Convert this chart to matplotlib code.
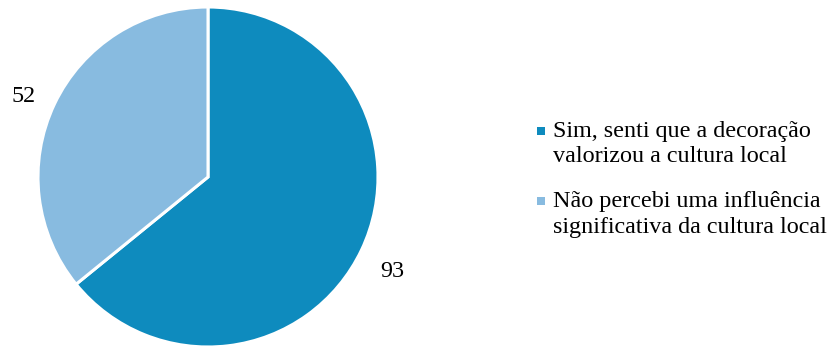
import numpy as np
import matplotlib.pyplot as plt
from matplotlib.patches import Rectangle

plt.rcParams['font.family'] = ['Liberation Serif', 'DejaVu Serif']

labels = [['Sim, senti que a decoração', 'valorizou a cultura local'],
          ['Não percebi uma influência', 'significativa da cultura local']]
values = [93, 52]
colors = ['#0E8BBE', '#88BBE0']

W, H = 832, 346
fig = plt.figure(figsize=(W / 100, H / 100), dpi=100)
ax = fig.add_axes([38 / W, -1 / H, 340 / W, 340 / H])

wedges, _ = ax.pie(values, colors=colors, startangle=90, counterclock=False,
                   wedgeprops=dict(edgecolor='white', linewidth=2.2))
ax.set_xlim(-1, 1)
ax.set_ylim(-1, 1)
ax.set_aspect('equal')

# value labels outside each slice, centred on the slice mid-angle
for w, v in zip(wedges, values):
    mid = np.deg2rad((w.theta1 + w.theta2) / 2)
    ax.text(1.2 * np.cos(mid), 1.2 * np.sin(mid) - 0.025, str(v), fontsize=17.4,
            ha='center', va='center_baseline')

# legend drawn by hand: square marker + two text lines per entry
line_y = [[131, 157], [201, 228]]
for c, lines, ys in zip(colors, labels, line_y):
    fig.patches.append(Rectangle((537 / W, 1 - (ys[0] + 4) / H), 8 / W, 8 / H,
                                 transform=fig.transFigure, facecolor=c,
                                 edgecolor='none'))
    for txt, y in zip(lines, ys):
        fig.text(553 / W, 1 - y / H, txt, fontsize=17.4, ha='left', va='center')

fig.savefig('out.png', dpi=100)
